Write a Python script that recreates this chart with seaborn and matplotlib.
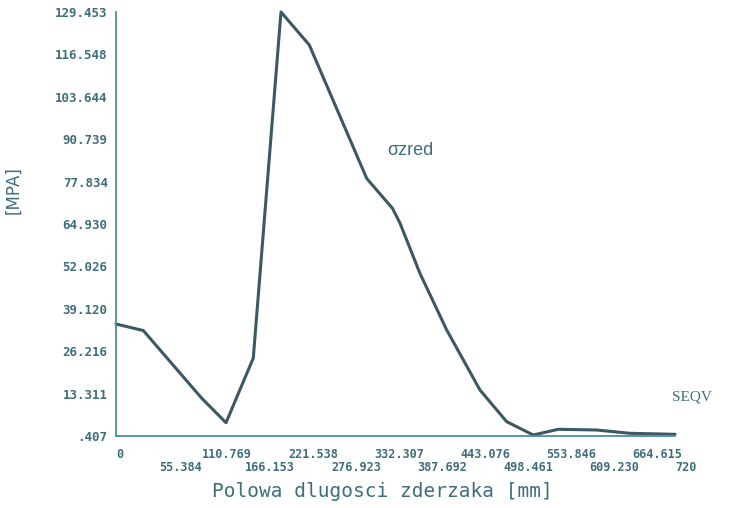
import matplotlib
matplotlib.use("Agg")
import matplotlib.pyplot as plt
import seaborn as sns
import pandas as pd

# Data
path_mm = [0, 35.2, 110.4, 141.7, 176.8, 212.5, 249.0, 322.9, 356.1, 365.8,
           391.5, 425.9, 468.8, 503.2, 537.5, 569.7, 619.1, 662.0, 720.0]
seqv_mpa = [34.5, 32.5, 11.9, 4.45, 24.1, 129.45, 119.4, 78.8, 69.7, 65.2,
            49.9, 32.7, 14.4, 4.76, 0.71, 2.45, 2.23, 1.23, 0.92]

x_ticks = [0, 55.384, 110.769, 166.153, 221.538, 276.923, 332.307, 387.692,
           443.076, 498.461, 553.846, 609.230, 664.615, 720]
x_tick_labels = ["0", "55.384", "110.769", "166.153", "221.538", "276.923",
                 "332.307", "387.692", "443.076", "498.461", "553.846",
                 "609.230", "664.615", "720"]
y_ticks = [0.407, 13.311, 26.216, 39.120, 52.026, 64.930, 77.834, 90.739,
           103.644, 116.548, 129.453]
y_tick_labels = [".407", "13.311", "26.216", "39.120", "52.026", "64.930",
                 "77.834", "90.739", "103.644", "116.548", "129.453"]

df = pd.DataFrame({"x": path_mm, "y": seqv_mpa})

sns.set_style("white")
plt.rcParams["font.family"] = ["DejaVu Sans Mono", "DejaVu Sans"]

axis_col = "#4f8ea3"
line_col = "#3c5863"
text_col = "#3e6e7c"

fig = plt.figure(figsize=(7.29, 5.08), dpi=100)
ax = fig.add_axes([116 / 729, 1 - 436 / 508, 559 / 729, 424 / 508])

sns.lineplot(data=df, x="x", y="y", ax=ax, color=line_col, linewidth=2.2,
             clip_on=False)

ax.set_xlim(0, 720)
ax.set_ylim(0.407, 129.453)

for s in ["top", "right"]:
    ax.spines[s].set_visible(False)
for s in ["left", "bottom"]:
    ax.spines[s].set_color(axis_col)
    ax.spines[s].set_linewidth(1.3)

# upper row (even) as major ticks, lower row (odd) as minor ticks
ax.set_xticks(x_ticks[0::2])
ax.set_xticklabels(x_tick_labels[0::2], ha="left", fontsize=8.5,
                   fontweight="bold", color=text_col)
ax.set_xticks(x_ticks[1::2], minor=True)
ax.set_xticklabels(x_tick_labels[1::2], minor=True, ha="left", fontsize=8.5,
                   fontweight="bold", color=text_col)
ax.set_yticks(y_ticks)
ax.set_yticklabels(y_tick_labels, fontsize=9, fontweight="bold",
                   color=text_col)
ax.tick_params(axis="x", which="major", direction="out", length=8.5, width=1.2,
               color=axis_col, pad=0)
ax.tick_params(axis="x", which="minor", direction="out", length=8.5, width=1.2,
               color=axis_col, pad=9.5)
ax.tick_params(axis="y", direction="out", length=3, width=1.2,
               color=axis_col, pad=3)

ax.set_xlabel("Polowa dlugosci zderzaka [mm]", fontsize=14, color=text_col)
ax.xaxis.set_label_coords(0.476, -0.108)
ax.set_ylabel("[MPA]", fontsize=12, color=text_col,
              fontfamily=["DejaVu Sans", "Liberation Sans"])
ax.yaxis.set_label_coords(-0.168, 0.58)

ax.text(350, 87.4, "σzred", fontsize=13, color=text_col,
        fontfamily=["Liberation Sans", "DejaVu Sans"], va="center", ha="left")
ax.text(716, 12.3, "SEQV", fontsize=11, color=text_col,
        fontfamily=["Liberation Serif", "DejaVu Serif"], va="center",
        ha="left", clip_on=False)

fig.savefig("out.png", dpi=100)
